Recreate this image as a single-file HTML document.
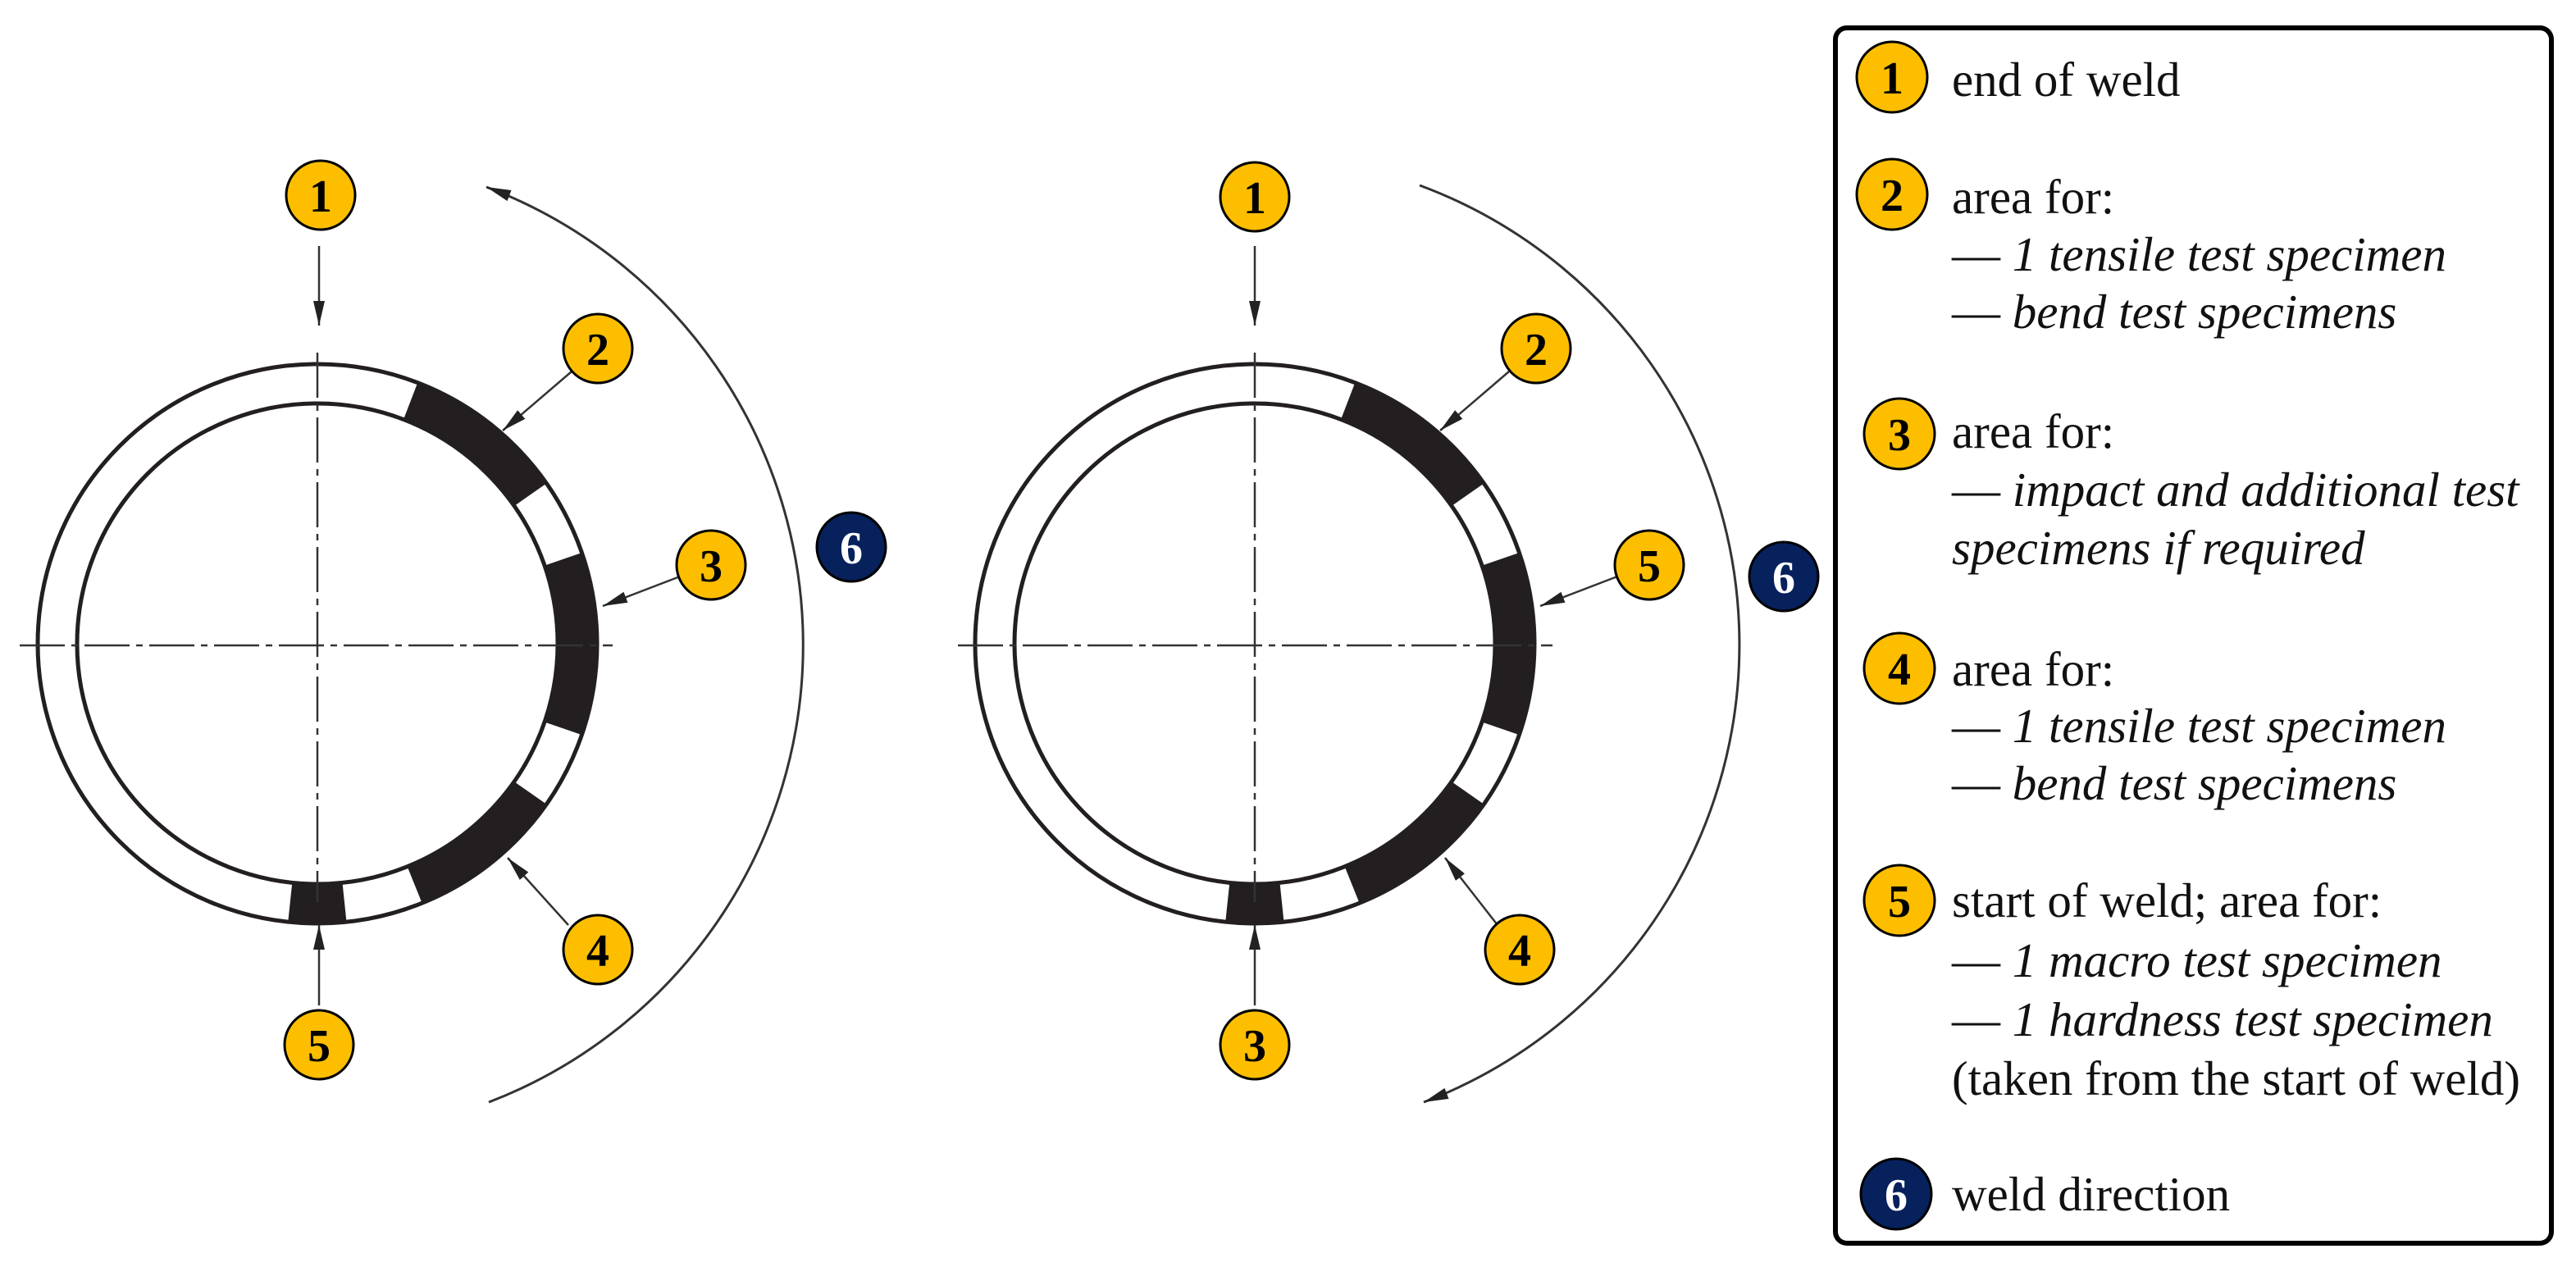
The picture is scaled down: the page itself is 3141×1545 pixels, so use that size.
<!DOCTYPE html>
<html><head><meta charset="utf-8"><style>
html,body{margin:0;padding:0;background:#fff;}
svg{display:block;}
text{font-family:"Liberation Serif","Times New Roman",serif;}
.num{font-weight:bold;font-size:56px;text-anchor:middle;}
.lg{font-size:59px;fill:#111;}
</style></head><body>
<svg width="3141" height="1545" viewBox="0 0 3141 1545" xmlns="http://www.w3.org/2000/svg">
<defs>
<marker id="ah" viewBox="0 0 30 14" refX="30" refY="7" markerWidth="30" markerHeight="14" markerUnits="userSpaceOnUse" orient="auto-start-reverse">
<path d="M0,0 L30,7 L0,14 Z" fill="#222"/>
</marker>
</defs>

<!-- LEFT DIAGRAM -->
<g>
<path d="M387,468 A317,317 0 1,1 387,1102 A317,317 0 1,1 387,468" fill="none" stroke="#231f20" stroke-width="48" stroke-dasharray="0 116.2 188.1 88.5 210.3 88.5 182.6 88.5 66.4 1000"/>
<circle cx="387" cy="785" r="341" fill="none" stroke="#231f20" stroke-width="5"/>
<circle cx="387" cy="785" r="293" fill="none" stroke="#231f20" stroke-width="5"/>
<line x1="24" y1="787" x2="747" y2="787" stroke="#333" stroke-width="2.5" stroke-dasharray="55 8 8 8"/>
<line x1="387" y1="430" x2="387" y2="1100" stroke="#333" stroke-width="2.5" stroke-dasharray="55 8 8 8"/>
<path d="M593,228 A597,597 0 0,1 596,1344" fill="none" stroke="#333" stroke-width="3" marker-start="url(#ah)"/>
<line x1="389" y1="300" x2="389" y2="397" stroke="#333" stroke-width="2.5" marker-end="url(#ah)"/>
<line x1="697" y1="453" x2="613" y2="525" stroke="#333" stroke-width="2.5" marker-end="url(#ah)"/>
<line x1="829" y1="703" x2="735" y2="739" stroke="#333" stroke-width="2.5" marker-end="url(#ah)"/>
<line x1="693" y1="1128" x2="619" y2="1046" stroke="#333" stroke-width="2.5" marker-end="url(#ah)"/>
<line x1="389" y1="1226" x2="389" y2="1128" stroke="#333" stroke-width="2.5" marker-end="url(#ah)"/>
</g>

<!-- RIGHT DIAGRAM -->
<g>
<path d="M1530,468 A317,317 0 1,1 1530,1102 A317,317 0 1,1 1530,468" fill="none" stroke="#231f20" stroke-width="48" stroke-dasharray="0 116.2 188.1 88.5 210.3 88.5 182.6 88.5 66.4 1000"/>
<circle cx="1530" cy="785" r="341" fill="none" stroke="#231f20" stroke-width="5"/>
<circle cx="1530" cy="785" r="293" fill="none" stroke="#231f20" stroke-width="5"/>
<line x1="1168" y1="787" x2="1893" y2="787" stroke="#333" stroke-width="2.5" stroke-dasharray="55 8 8 8"/>
<line x1="1530" y1="430" x2="1530" y2="1100" stroke="#333" stroke-width="2.5" stroke-dasharray="55 8 8 8"/>
<path d="M1731,226 A597,597 0 0,1 1736,1344" fill="none" stroke="#333" stroke-width="3" marker-end="url(#ah)"/>
<line x1="1530" y1="300" x2="1530" y2="397" stroke="#333" stroke-width="2.5" marker-end="url(#ah)"/>
<line x1="1840" y1="453" x2="1756" y2="525" stroke="#333" stroke-width="2.5" marker-end="url(#ah)"/>
<line x1="1972" y1="703" x2="1878" y2="739" stroke="#333" stroke-width="2.5" marker-end="url(#ah)"/>
<line x1="1826" y1="1128" x2="1762" y2="1046" stroke="#333" stroke-width="2.5" marker-end="url(#ah)"/>
<line x1="1530" y1="1226" x2="1530" y2="1128" stroke="#333" stroke-width="2.5" marker-end="url(#ah)"/>
</g>

<!-- badges diagrams -->
<g stroke="#000" stroke-width="3">
<circle cx="391" cy="238" r="42" fill="#FDBE00"/>
<circle cx="729" cy="425" r="42" fill="#FDBE00"/>
<circle cx="867" cy="689" r="42" fill="#FDBE00"/>
<circle cx="729" cy="1158" r="42" fill="#FDBE00"/>
<circle cx="389" cy="1274" r="42" fill="#FDBE00"/>
<circle cx="1038" cy="667" r="42" fill="#06215C"/>
<circle cx="1530" cy="240" r="42" fill="#FDBE00"/>
<circle cx="1873" cy="425" r="42" fill="#FDBE00"/>
<circle cx="2011" cy="689" r="42" fill="#FDBE00"/>
<circle cx="1853" cy="1158" r="42" fill="#FDBE00"/>
<circle cx="1530" cy="1274" r="42" fill="#FDBE00"/>
<circle cx="2175" cy="703" r="42" fill="#06215C"/>
</g>
<text x="391" y="258" class="num">1</text>
<text x="729" y="445" class="num">2</text>
<text x="867" y="709" class="num">3</text>
<text x="729" y="1178" class="num">4</text>
<text x="389" y="1294" class="num">5</text>
<text x="1038" y="687" class="num" fill="#fff">6</text>
<text x="1530" y="260" class="num">1</text>
<text x="1873" y="445" class="num">2</text>
<text x="2011" y="709" class="num">5</text>
<text x="1853" y="1178" class="num">4</text>
<text x="1530" y="1294" class="num">3</text>
<text x="2175" y="723" class="num" fill="#fff">6</text>

<!-- LEGEND -->
<rect x="2238" y="34" width="873" height="1482" rx="14" fill="#fff" stroke="#000" stroke-width="6"/>
<g stroke="#000" stroke-width="3">
<circle cx="2307" cy="94" r="43" fill="#FDBE00"/>
<circle cx="2307" cy="237" r="43" fill="#FDBE00"/>
<circle cx="2316" cy="529" r="43" fill="#FDBE00"/>
<circle cx="2316" cy="815" r="43" fill="#FDBE00"/>
<circle cx="2316" cy="1098" r="43" fill="#FDBE00"/>
<circle cx="2312" cy="1456" r="43" fill="#06215C"/>
</g>
<text x="2307" y="114" class="num">1</text>
<text x="2307" y="257" class="num">2</text>
<text x="2316" y="549" class="num">3</text>
<text x="2316" y="835" class="num">4</text>
<text x="2316" y="1118" class="num">5</text>
<text x="2312" y="1476" class="num" fill="#fff">6</text>

<text x="2380" y="117" class="lg">end of weld</text>
<text x="2380" y="260" class="lg">area for:</text>
<text x="2380" y="330" class="lg">— <tspan font-style="italic">1 tensile test specimen</tspan></text>
<text x="2380" y="400" class="lg">— <tspan font-style="italic">bend test specimens</tspan></text>
<text x="2380" y="546" class="lg">area for:</text>
<text x="2380" y="617" class="lg">— <tspan font-style="italic">impact and additional test</tspan></text>
<text x="2380" y="688" class="lg" font-style="italic">specimens if required</text>
<text x="2380" y="836" class="lg">area for:</text>
<text x="2380" y="905" class="lg">— <tspan font-style="italic">1 tensile test specimen</tspan></text>
<text x="2380" y="975" class="lg">— <tspan font-style="italic">bend test specimens</tspan></text>
<text x="2380" y="1118" class="lg">start of weld; area for:</text>
<text x="2380" y="1191" class="lg">— <tspan font-style="italic">1 macro test specimen</tspan></text>
<text x="2380" y="1263" class="lg">— <tspan font-style="italic">1 hardness test specimen</tspan></text>
<text x="2380" y="1335" class="lg">(taken from the start of weld)</text>
<text x="2380" y="1476" class="lg">weld direction</text>
</svg>
</body></html>
